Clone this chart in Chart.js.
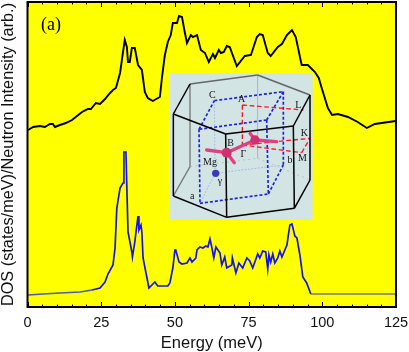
<!DOCTYPE html>
<html>
<head>
<meta charset="utf-8">
<style>
  html, body { margin: 0; padding: 0; background: #fff; }
  canvas { display: block; }
</style>
<script src="https://cdn.jsdelivr.net/npm/chart.js@4/dist/chart.umd.min.js"></script>
</head>
<body>
<canvas id="chart" width="409" height="352"></canvas>
<script>
// neutron spectrum (offset upward in the figure), arbitrary units
const neutronEnergy = [0.2,1.9,4.2,5.9,7.6,8.6,9.3,11,13,15.1,16.8,18.5,20.5,21.5,23.2,24.6,26.3,28,29,30,31.4,32.4,33,33.7,34.1,34.7,35.4,36.4,37.5,38.8,39.8,40.8,42.5,44.9,45.6,46.6,47.6,48.6,49.3,50.7,51.4,52.4,53.4,54.1,55.4,56.1,57.5,58.8,60.2,61.5,62.9,63.6,64.9,65.6,66.6,67.6,68.6,71,73.7,75.8,77.8,78.8,79.8,81.5,82.5,84.9,86.3,88,89.7,91,93,95.1,97.5,98.8,99.8,101.9,103.3,105.3,108.7,112,115.1,117.8,124.9];
const neutronValues = [177,180,181,180,183,183,180,182,184,187,191,195,198,198,204,203,208,214,217,219,234,255,267,260,245,245,259,259,242,237,215,209,206,210,229,252,265,272,284,284,291,290,274,264,272,270,272,257,254,245,253,249,257,254,255,261,260,241,251,252,270,273,272,254,251,260,263,272,277,270,242,242,235,229,219,199,192,193,190,185,179,183,186];

// calculated phonon DOS
const dosEnergy = [0.2,5.3,11,17.8,21.9,24.6,26.3,27.3,29,29.7,30.3,31.4,32.4,32.7,33.4,33.7,34.1,35.4,35.6,36.4,37.1,37.5,37.8,38.5,38.8,39.2,40.2,41.2,43.2,44.2,47.6,48.3,49.3,50,50.3,51.4,52.4,54.1,55.1,55.8,57.1,57.5,58.5,59.5,60.5,61.2,61.9,62.5,63.2,63.9,65.3,65.9,66.9,67.6,69.3,69.5,70.7,71.7,73,74.4,75.4,76.4,78.1,78.8,79.8,80.8,81.5,81.9,82.5,83.2,83.9,84.9,85.6,86.3,88,89,89.7,90.7,91.4,92.4,93.4,94.7,96.1,124.9];
const dosValues = [12,13,14,15,17,19,25,33,42,59,99,119,124,155,155,119,75,55,50,65,82,91,77,82,75,49,34,19,25,21,21,24,39,57,57,45,43,44,49,45,49,57,60,59,61,60,68,60,49,60,54,42,50,39,42,49,34,44,39,49,46,39,53,49,56,55,38,52,45,53,44,49,56,50,62,82,83,71,69,52,30,24,13,13];

const xTickLabels = [0, 25, 50, 75, 100, 125];

const toPoints = (xs, ys) => xs.map((x, i) => ({ x: x, y: ys[i] }));

// yellow plot background plus the inward ticks on top and bottom
const frame = {
  id: 'frame',
  beforeDatasetsDraw(chart) {
    const { ctx, chartArea: a } = chart;
    ctx.save();
    ctx.fillStyle = '#ffff00';
    ctx.fillRect(a.left, a.top, a.right - a.left, a.bottom - a.top);
    ctx.restore();
  },
  afterDatasetsDraw(chart) {
    const { ctx, chartArea: a, scales } = chart;
    ctx.save();
    ctx.strokeStyle = '#000';
    ctx.lineWidth = 1;
    for (let v = 0; v <= 125; v += 5) {
      const x = Math.round(scales.x.getPixelForValue(v)) + 0.5;
      const len = v % 25 === 0 ? 5 : 2.5;
      ctx.beginPath();
      ctx.moveTo(x, a.bottom);
      ctx.lineTo(x, a.bottom - len);
      ctx.moveTo(x, a.top);
      ctx.lineTo(x, a.top + len);
      ctx.stroke();
    }
    ctx.lineWidth = 2;
    ctx.strokeRect(a.left, a.top, a.right - a.left, a.bottom - a.top);
    ctx.fillStyle = '#000';
    ctx.font = '18px "Liberation Serif"';
    ctx.textBaseline = 'alphabetic';
    ctx.fillText('(a)', 41, 30);
    ctx.restore();
  }
};

// Brillouin zone inset, sketched in its own 3x coordinates
const segs = (ctx, color, width, dash, list) => {
  ctx.strokeStyle = color;
  ctx.lineWidth = width;
  ctx.setLineDash(dash);
  list.forEach(p => {
    ctx.beginPath();
    ctx.moveTo(p[0], p[1]);
    ctx.lineTo(p[2], p[3]);
    ctx.stroke();
  });
  ctx.setLineDash([]);
};

const inset = {
  id: 'inset',
  afterDraw(chart) {
    const ctx = chart.ctx;
    ctx.save();
    ctx.translate(165, 70);
    ctx.scale(1 / 3, 1 / 3);
    ctx.fillStyle = '#d3e4e4';
    ctx.fillRect(15, 9, 428, 441);

    segs(ctx, '#b8c4c4', 3, [6, 10], [[75,290,278,265],[278,265,435,330]]);
    segs(ctx, '#aab4b4', 3, [], [[278,15,278,265]]);
    segs(ctx, '#777', 4, [], [[75,42,75,290],[25,378,75,290]]);
    segs(ctx, '#666', 5, [], [[75,42,278,15],[278,15,435,75]]);

    segs(ctx, '#a8b4ee', 3, [5, 5], [[148,92,150,310],[150,310,355,285],[150,310,105,400]]);
    segs(ctx, '#1c22e0', 5, [9, 6], [[148,92,355,65],[355,65,305,150],[305,150,102,178],[102,178,148,92],
      [102,178,105,400],[305,150,310,372],[355,65,355,285],[105,400,310,372],[310,372,355,285]]);

    segs(ctx, '#f01c30', 4, [14, 8], [[232,105,415,120],[232,105,232,225],[232,225,435,205],[232,225,410,248],[410,248,435,205]]);

    segs(ctx, '#000', 4.5, [], [[25,132,25,378],[182,192,185,442],[385,168,388,415],[435,75,435,330],
      [25,378,185,442],[185,442,388,415],[388,415,435,330],[435,75,385,168],[385,168,182,192],[182,192,25,132],[25,132,75,42]]);

    ctx.lineCap = 'round';
    segs(ctx, '#e0407f', 10, [], [[125,240,185,248],[185,248,208,278],[185,248,270,210],[270,210,335,215],[270,210,255,190]]);
    ctx.fillStyle = '#d03070';
    [[185,248,15],[270,210,14]].forEach(c => {
      ctx.beginPath();
      ctx.arc(c[0], c[1], c[2], 0, Math.PI * 2);
      ctx.fill();
    });
    ctx.fillStyle = '#3a3ac0';
    ctx.beginPath();
    ctx.arc(152, 310, 11, 0, Math.PI * 2);
    ctx.fill();

    ctx.fillStyle = '#111';
    ctx.font = '30px "Liberation Serif"';
    ctx.textAlign = 'center';
    ctx.textBaseline = 'middle';
    [['C',142,75],['A',230,88],['L',400,105],['B',197,220],['Γ',235,252],['K',418,190],['M',412,265],['b',375,272],['Mg',135,278],['γ',165,335],['a',82,380]]
      .forEach(t => ctx.fillText(t[0], t[1], t[2]));
    ctx.restore();
  }
};

new Chart(document.getElementById('chart').getContext('2d'), {
  type: 'line',
  data: {
    datasets: [
      {
        data: toPoints(neutronEnergy, neutronValues),
        borderColor: '#000',
        borderWidth: 1.9,
        pointRadius: 0,
        tension: 0
      },
      {
        data: toPoints(dosEnergy, dosValues),
        borderColor: '#1414e6',
        borderWidth: 1.7,
        pointRadius: 0,
        tension: 0,
        segment: {
          borderColor: c => (c.p0.parsed.x > 96 ? '#777' : c.p0.parsed.x < 20 ? '#4a5fa8' : undefined)
        }
      }
    ]
  },
  options: {
    responsive: false,
    animation: false,
    layout: { autoPadding: false, padding: { left: 0, right: 13, top: 2, bottom: 0 } },
    plugins: { legend: { display: false }, tooltip: { enabled: false } },
    scales: {
      x: {
        type: 'linear',
        min: 0,
        max: 125,
        grid: { display: false },
        border: { display: false },
        afterFit: s => { s.height = 45; },
        ticks: {
          stepSize: 25,
          autoSkip: false,
          maxRotation: 0,
          padding: -1,
          color: '#111',
          font: { family: '"Liberation Sans"', size: 14.5 },
          callback: v => (xTickLabels.includes(v) ? v : '')
        },
        title: {
          display: true,
          text: 'Energy (meV)',
          color: '#111',
          font: { family: '"Liberation Sans"', size: 16.5, lineHeight: 1 },
          padding: { top: 0, bottom: 0 }
        }
      },
      y: {
        min: 0,
        max: 305,
        grid: { display: false },
        border: { display: false },
        afterFit: s => { s.width = 27.5; },
        ticks: { display: false },
        title: {
          display: true,
          text: 'DOS (states/meV)/Neutron Intensity (arb.)',
          color: '#111',
          font: { family: '"Liberation Sans"', size: 16.3, lineHeight: 1 },
          padding: { top: 0, bottom: 0 }
        }
      }
    }
  },
  plugins: [frame, inset]
});
</script>
</body>
</html>
